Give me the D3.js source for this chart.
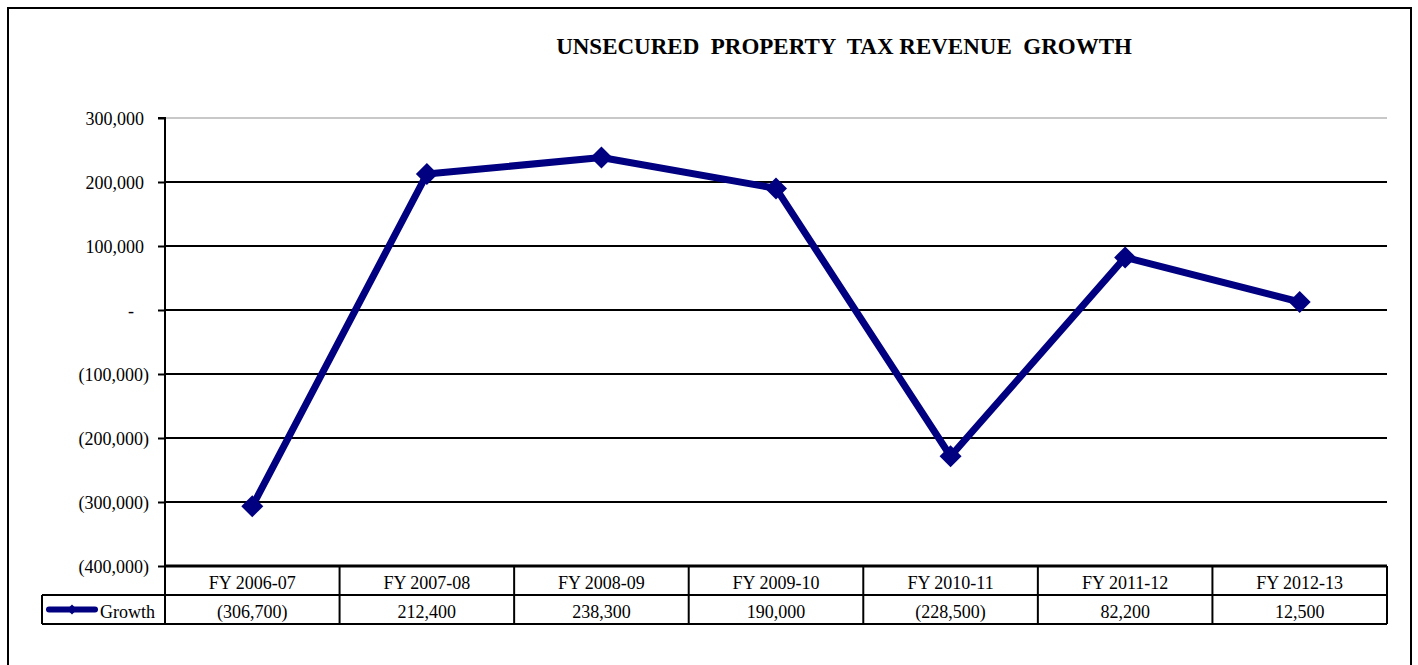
<!DOCTYPE html>
<html>
<head>
<meta charset="utf-8">
<script src="https://cdn.jsdelivr.net/npm/d3@7"></script>
<style>
  html, body { margin: 0; padding: 0; background: #fff; }
  svg { display: block; }
  svg text { font-family: "Liberation Serif", "Times New Roman", serif; fill: #000; }
</style>
</head>
<body>
<svg id="chart" width="1418" height="665"></svg>
<script>
// Fiscal years and year-over-year growth in unsecured property tax revenue
const categories = ["FY 2006-07", "FY 2007-08", "FY 2008-09", "FY 2009-10", "FY 2010-11", "FY 2011-12", "FY 2012-13"];
const growth = [-306700, 212400, 238300, 190000, -228500, 82200, 12500];
const tickValues = [300000, 200000, 100000, 0, -100000, -200000, -300000, -400000];
const seriesName = "Growth";
const title = "UNSECURED  PROPERTY  TAX REVENUE  GROWTH";

const svg = d3.select("#chart");
const plot = { left: 165, right: 1387, top: 118, bottom: 566 };
const rowH = 29;
const navy = "#000080";

// accounting-style number format: negatives in parentheses, zero as dash
const fmt = v => v === 0 ? "-" : (v < 0 ? "(" + d3.format(",")(-v) + ")" : d3.format(",")(v));

// square diamond marker of half-diagonal r
const diamond = r => `M0,${-r}L${r},0L0,${r}L${-r},0Z`;

// outer frame
svg.append("rect").attr("x", 8).attr("y", 8).attr("width", 1403).attr("height", 670)
  .attr("fill", "none").attr("stroke", "#000").attr("stroke-width", 2);

// title
svg.append("text").attr("x", 844).attr("y", 54).attr("text-anchor", "middle")
  .attr("font-size", 23).attr("font-weight", "bold").style("white-space", "pre")
  .text(title);

const x = d3.scaleBand().domain(categories).range([plot.left, plot.right]);
const y = d3.scaleLinear().domain([-400000, 300000]).range([plot.bottom, plot.top]);

// horizontal gridlines
svg.append("g").selectAll("line").data(tickValues.filter(v => v > -400000)).join("line")
  .attr("x1", plot.left).attr("x2", plot.right)
  .attr("y1", d => y(d)).attr("y2", d => y(d))
  .attr("stroke", d => d === 300000 ? "#c8c8c8" : "#000")
  .attr("stroke-width", 2);

// value axis
const yAxis = d3.axisLeft(y).tickValues(tickValues).tickSize(7).tickPadding(9).tickFormat(fmt);
const gy = svg.append("g").attr("transform", `translate(${plot.left},0)`).call(yAxis);
gy.select(".domain").attr("stroke", "#000").attr("stroke-width", 2).attr("d", `M-7,${plot.top}H0V${plot.bottom}`);
gy.selectAll(".tick line").attr("stroke", "#000").attr("stroke-width", 2);
gy.selectAll(".tick text").attr("font-size", 18).attr("font-family", null).attr("dy", "0.36em")
  // positive values leave room for the closing parenthesis; the zero dash sits further in
  .attr("dx", d => d > 0 ? -5 : (d === 0 ? -15 : 0));

// data table under the plot
const tbl = svg.append("g").attr("stroke", "#000").attr("stroke-width", 2).attr("fill", "none");
const tableTop = plot.bottom, tableBottom = plot.bottom + 2 * rowH;
const legendLeft = 42;
tbl.append("line").attr("x1", plot.left).attr("x2", plot.right).attr("y1", tableTop).attr("y2", tableTop).attr("stroke-width", 3);
tbl.append("line").attr("x1", legendLeft).attr("x2", plot.right).attr("y1", tableTop + rowH).attr("y2", tableTop + rowH);
tbl.append("line").attr("x1", legendLeft).attr("x2", plot.right).attr("y1", tableBottom).attr("y2", tableBottom);
tbl.append("line").attr("x1", legendLeft).attr("x2", legendLeft).attr("y1", tableTop + rowH).attr("y2", tableBottom);
const bounds = categories.map(c => x(c)).concat([plot.right]);
tbl.selectAll("line.col").data(bounds).join("line").attr("class", "col")
  .attr("x1", d => d).attr("x2", d => d).attr("y1", tableTop).attr("y2", tableBottom);

svg.append("g").selectAll("text").data(categories).join("text")
  .attr("x", d => x(d) + x.bandwidth() / 2).attr("y", tableTop + 23)
  .attr("text-anchor", "middle").attr("font-size", 18).text(d => d);
svg.append("g").selectAll("text").data(growth).join("text")
  .attr("x", (d, i) => x(categories[i]) + x.bandwidth() / 2).attr("y", tableTop + rowH + 23)
  .attr("text-anchor", "middle").attr("font-size", 18).text(d => fmt(d));

// legend key in the table
const ly = tableTop + rowH * 1.5;
svg.append("line").attr("x1", 49).attr("x2", 95).attr("y1", ly).attr("y2", ly)
  .attr("stroke", navy).attr("stroke-width", 6).attr("stroke-linecap", "round");
svg.append("path").attr("d", diamond(5)).attr("transform", `translate(72,${ly})`).attr("fill", navy);
svg.append("text").attr("x", 100).attr("y", tableTop + rowH + 23).attr("font-size", 18).text(seriesName);

// growth line with diamond markers
const pts = growth.map((v, i) => [x(categories[i]) + x.bandwidth() / 2, y(v)]);
svg.append("path").datum(pts).attr("d", d3.line())
  .attr("fill", "none").attr("stroke", navy).attr("stroke-width", 7).attr("stroke-linejoin", "round");
svg.append("g").selectAll("path").data(pts).join("path")
  .attr("d", diamond(11))
  .attr("transform", d => `translate(${d[0]},${d[1]})`).attr("fill", navy);
</script>
</body>
</html>
